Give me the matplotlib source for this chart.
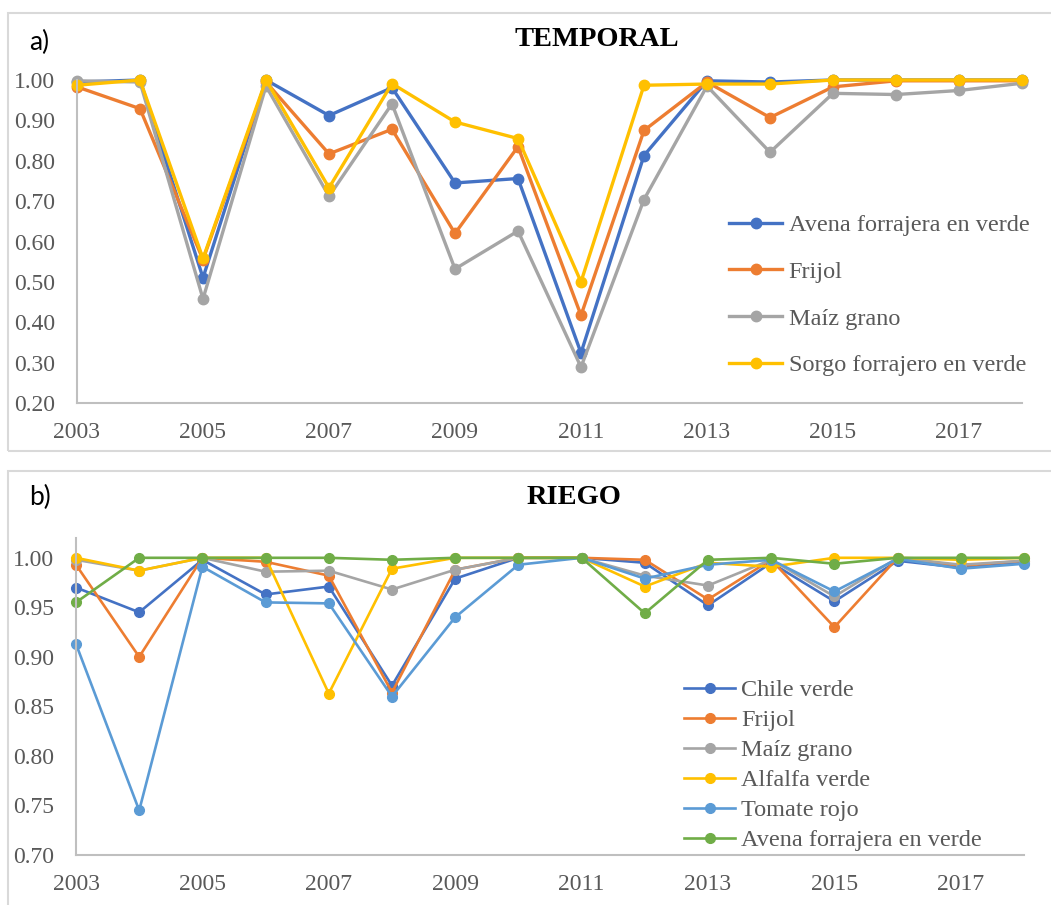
"""
plot.py
Indice por ciclo: temporal (a) y riego (b), 2003-2018
"""
import matplotlib
matplotlib.use("Agg")
import matplotlib.pyplot as plt
from matplotlib.patches import Rectangle

# Years on the x axis
YEARS = list(range(2003, 2019))
XTICKS = [2003, 2005, 2007, 2009, 2011, 2013, 2015, 2017]

# a) TEMPORAL
TEMP_NAMES = ["Avena forrajera en verde", "Frijol", "Maíz grano",
              "Sorgo forrajero en verde"]
temp_avena = [0.995, 1.000, 0.510, 1.000, 0.912, 0.981, 0.745, 0.756,
              0.324, 0.813, 0.998, 0.995, 1.000, 1.000, 1.000, 1.000]
temp_frijol = [0.983, 0.929, 0.555, 0.995, 0.817, 0.878, 0.620, 0.835,
               0.417, 0.875, 0.995, 0.907, 0.983, 0.998, 0.998, 0.998]
temp_maiz = [0.998, 0.995, 0.458, 0.985, 0.712, 0.941, 0.532, 0.626,
             0.289, 0.704, 0.985, 0.821, 0.967, 0.964, 0.974, 0.992]
temp_sorgo = [0.987, 1.000, 0.558, 1.000, 0.733, 0.991, 0.896, 0.855,
              0.500, 0.987, 0.990, 0.990, 1.000, 1.000, 1.000, 1.000]

# b) RIEGO
RIEGO_NAMES = ["Chile verde", "Frijol", "Maíz grano", "Alfalfa verde",
               "Tomate rojo", "Avena forrajera en verde"]
riego_chile = [0.970, 0.945, 0.998, 0.963, 0.971, 0.871, 0.979, 1.000,
               1.000, 0.995, 0.952, 0.995, 0.956, 0.997, 0.990, 0.995]
riego_frijol = [0.993, 0.900, 1.000, 0.996, 0.982, 0.864, 0.988, 1.000,
                1.000, 0.998, 0.958, 0.998, 0.930, 1.000, 0.992, 0.997]
riego_maiz = [0.998, 0.987, 1.000, 0.986, 0.987, 0.968, 0.988, 1.000,
              1.000, 0.982, 0.972, 0.998, 0.961, 1.000, 0.993, 0.997]
riego_alfalfa = [1.000, 0.987, 1.000, 1.000, 0.863, 0.989, 1.000, 1.000,
                 1.000, 0.971, 0.995, 0.991, 1.000, 1.000, 0.998, 1.000]
riego_tomate = [0.913, 0.745, 0.991, 0.955, 0.954, 0.860, 0.940, 0.993,
                1.000, 0.979, 0.993, 0.998, 0.966, 0.999, 0.989, 0.994]
riego_avena = [0.955, 1.000, 1.000, 1.000, 1.000, 0.998, 1.000, 1.000,
               1.000, 0.944, 0.998, 1.000, 0.994, 1.000, 1.000, 1.000]

BLUE = "#4472C4"
ORANGE = "#ED7D31"
GRAY = "#A5A5A5"
YELLOW = "#FFC000"
LBLUE = "#5B9BD5"
GREEN = "#70AD47"

W, H = 1051, 905
SERIF = "Liberation Serif"
TEXT_COLOR = "#595959"
AXIS_COLOR = "#BFBFBF"


def px_axes(fig, left, right, top, bottom):
    ''' Makes an axes from pixel edges of the picture '''
    return fig.add_axes([left / W, 1 - bottom / H, (right - left) / W,
                         (bottom - top) / H])


def style_axes(ax, ylim, yticks, ylabels):
    ''' Excel-like look: only left and bottom axis lines, no ticks '''
    ax.set_xlim(2003, 2018)
    ax.set_ylim(*ylim)
    ax.set_xticks(XTICKS)
    ax.set_xticklabels([str(x) for x in XTICKS])
    ax.set_yticks(yticks)
    ax.set_yticklabels(ylabels)
    for side in ["top", "right"]:
        ax.spines[side].set_visible(False)
    for side in ["left", "bottom"]:
        ax.spines[side].set_color(AXIS_COLOR)
        ax.spines[side].set_linewidth(1.5)
    ax.tick_params(axis="both", length=0, labelsize=17, colors=TEXT_COLOR)
    ax.tick_params(axis="y", pad=16)
    ax.tick_params(axis="x", pad=14)
    for lab in ax.get_xticklabels() + ax.get_yticklabels():
        lab.set_fontfamily(SERIF)
    ax.patch.set_alpha(0)


def main():
    fig = plt.figure(figsize=(W / 100, H / 100), dpi=100)

    # panel frames
    fig.patches.append(Rectangle((8 / W, 1 - 451 / H), 1.1, 438 / H,
                                 transform=fig.transFigure, fill=False,
                                 edgecolor="#D9D9D9", linewidth=1.5))
    fig.patches.append(Rectangle((8 / W, -0.1), 1.1, 0.1 + 1 - 471 / H,
                                 transform=fig.transFigure, fill=False,
                                 edgecolor="#D9D9D9", linewidth=1.5))

    # a) TEMPORAL
    ax1 = px_axes(fig, 77, 1022, 80, 403)
    temp_series = [temp_avena, temp_frijol, temp_maiz, temp_sorgo]
    temp_colors = [BLUE, ORANGE, GRAY, YELLOW]
    for vals, name, col in zip(temp_series, TEMP_NAMES, temp_colors):
        ax1.plot(YEARS, vals, color=col, linewidth=2.4, marker="o",
                 markersize=7.5, label=name, clip_on=False)
    style_axes(ax1, (0.2, 1.0), [0.2 + 0.1 * i for i in range(9)],
               ["%.2f" % (0.2 + 0.1 * i) for i in range(9)])
    leg1 = ax1.legend(loc="upper left", bbox_to_anchor=(729 / W, 1 - 214 / H),
                      bbox_transform=fig.transFigure, frameon=False,
                      prop={"family": SERIF, "size": 17.5}, handlelength=2.2,
                      handletextpad=0.25, labelspacing=1.02, borderpad=0,
                      borderaxespad=0)
    for t in leg1.get_texts():
        t.set_color(TEXT_COLOR)

    fig.text(29 / W, 1 - 42 / H, "a)", fontsize=19, family="Lato",
             va="center", ha="left")
    fig.text(597 / W, 1 - 40 / H, "TEMPORAL", fontsize=20.5, family=SERIF,
             fontweight="bold", va="center", ha="center")

    # b) RIEGO
    ax2 = px_axes(fig, 76, 1024, 538, 855)
    riego_series = [riego_chile, riego_frijol, riego_maiz, riego_alfalfa,
                    riego_tomate, riego_avena]
    riego_colors = [BLUE, ORANGE, GRAY, YELLOW, LBLUE, GREEN]
    for vals, name, col in zip(riego_series, RIEGO_NAMES, riego_colors):
        ax2.plot(YEARS, vals, color=col, linewidth=1.9, marker="o",
                 markersize=7, label=name, clip_on=False)
    style_axes(ax2, (0.70, 1.02), [0.70 + 0.05 * i for i in range(7)],
               ["%.2f" % (0.70 + 0.05 * i) for i in range(7)])
    leg2 = ax2.legend(loc="upper left", bbox_to_anchor=(684 / W, 1 - 679 / H),
                      bbox_transform=fig.transFigure, frameon=False,
                      prop={"family": SERIF, "size": 17.5}, handlelength=2.1,
                      handletextpad=0.25, labelspacing=0.33, borderpad=0,
                      borderaxespad=0)
    for t in leg2.get_texts():
        t.set_color(TEXT_COLOR)

    fig.text(29 / W, 1 - 497 / H, "b)", fontsize=19, family="Lato",
             va="center", ha="left")
    fig.text(574 / W, 1 - 497 / H, "RIEGO", fontsize=20.5, family=SERIF,
             fontweight="bold", va="center", ha="center")

    fig.savefig("out.png", dpi=100)


main()
